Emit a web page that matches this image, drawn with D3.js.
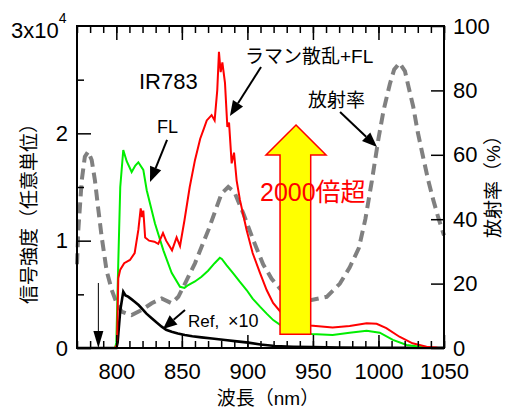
<!DOCTYPE html>
<html><head><meta charset="utf-8">
<script src="https://cdn.jsdelivr.net/npm/d3@7/dist/d3.min.js"></script>
<style>
body{margin:0;background:#fff;}
text{font-family:"Liberation Sans",Arial,"Noto Sans CJK JP",sans-serif;}
.cjk{font-family:"Liberation Sans","Noto Sans CJK JP",sans-serif;}
</style></head><body>
<svg id="c" width="505" height="410"></svg>
<script>
// ---- data ----
const redNm  = [770,790,799,800.5,801.5,803,806,810.4,814,816.8,818.6,819.6,820.6,822,825,829,832,835.6,838,842.5,846,848.6,852,856,860,864,867,869,872.7,875,877,878.3,879.6,880.9,882.9,884.7,886,888,889.8,891.8,894.3,899.4,904,909.6,914.7,919.6,925,935,948,965,978,991,998.6,1006,1016,1026,1036.7,1045,1050];
const redVal = [0,0,0,300,6500,7300,7900,8200,8850,11000,13000,12200,12800,10300,10000,9900,9700,10700,10000,9100,10300,9500,11900,15000,17500,19500,20500,21200,21700,21200,24000,27600,25700,26600,24700,20600,21000,17200,18200,15600,13800,11000,8850,7000,5400,4200,3400,2600,2100,1900,2050,2300,2250,1850,1050,440,120,20,0];

const grnNm  = [770,799,800,801.5,803,805.3,807.9,811.7,814.5,816.8,820.6,823.2,829.5,835.9,842.2,848.6,852,854.9,860,865,870,875,879,880.5,884.2,889.2,894,899.4,904,909.6,914.7,919.7,925,935,949,965,978,991,1001,1011,1021.5,1031.6,1040,1050];
const grnVal = [0,0,500,8000,15000,18450,17400,16400,17000,17300,16600,14700,11600,9100,7000,5700,5600,5870,6200,6640,7200,7900,8400,8300,7700,6960,6200,5400,4600,3850,3200,2600,2150,1600,1300,1210,1430,1610,1430,750,280,120,30,0];

const refNm  = [770,800,801,803,805.3,807,809,811.5,814,817,819.4,823,827,831,834.6,838,842.2,847,852.3,858,865,873,883,892,900.7,910,921,935,950,970,1000,1050];
const refVal = [0,0,500,3500,5250,4900,4780,4550,4310,4000,3700,3200,2770,2350,1990,1700,1520,1350,1210,1100,990,880,745,620,500,330,190,120,80,50,30,10];

const emNm  = [770,771,773.6,776,778.6,781.2,783.7,786.3,788.8,792.6,796.5,800.3,804,811.7,819.4,827,834.6,842.2,847.3,852.4,860,870.2,880.3,885.4,890,896.9,904.5,912,918.5,924.8,935,949,960.5,970.6,978,985,990,995,1000,1004,1008.7,1012,1016,1020.2,1023,1026.5,1030,1034,1038,1041.8,1046,1050];
const emVal = [26,36.6,52,59.4,61,58.4,52,42.9,34.6,24,18,13.9,11.3,10.2,11.8,13.9,15.4,13.9,15.9,20,26.3,36.6,48,50,48.5,41.8,33.5,26,21.5,18.5,15.5,14.9,15.9,20,25,31,40,52,65,74,82,86.5,88.5,86,81,75,67,59.4,52,46,40,35];

const xMajor = [800,850,900,950,1000,1050];
const xMinor = d3.range(770,1051,10);
const yLMajor = [0,10000,20000];
const yLLabels = ["0","1","2"];
const yLMinor = [5000,15000,25000];
const yRMajor = [0,20,40,60,80,100];

// ---- layout ----
const svg = d3.select("#c");
const L=77,R=444,T=26,B=348;
const x = d3.scaleLinear().domain([770,1050]).range([L,R]);
const yL = d3.scaleLinear().domain([0,30000]).range([B,T]);
const yR = d3.scaleLinear().domain([0,100]).range([B,T]);

function series(nm,val,ys){return nm.map((d,i)=>[x(d),ys(val[i])]);}
const line = d3.line().curve(d3.curveLinear);

svg.append("path").attr("d",line(series(emNm,emVal,yR)))
  .attr("fill","none").attr("stroke","#808080").attr("stroke-width",4)
  .attr("stroke-dasharray","11,6");
svg.append("path").attr("d",line(series(refNm,refVal,yL)))
  .attr("fill","none").attr("stroke","#000").attr("stroke-width",2.6);
svg.append("path").attr("d",line(series(grnNm,grnVal,yL)))
  .attr("fill","none").attr("stroke","#00ee00").attr("stroke-width",2);
svg.append("path").attr("d",line(series(redNm,redVal,yL)))
  .attr("fill","none").attr("stroke","#ff0000").attr("stroke-width",2);

// axes
function styleAx(g){g.select(".domain").remove();g.selectAll("line").attr("stroke","#000").attr("stroke-width",1.5);
  g.selectAll("text").attr("font-size",22).attr("fill","#000");}
svg.append("g").attr("transform",`translate(0,${B})`)
  .call(d3.axisBottom(x).tickValues(xMinor).tickSize(-7).tickFormat("")).call(styleAx);
svg.append("g").attr("transform",`translate(0,${B})`)
  .call(d3.axisBottom(x).tickValues(xMajor).tickSize(-13).tickPadding(15).tickFormat(d3.format("d"))).call(styleAx);
svg.append("g").attr("transform",`translate(0,${T})`)
  .call(d3.axisTop(x).tickValues(xMinor).tickSize(-7).tickFormat("")).call(styleAx);
svg.append("g").attr("transform",`translate(0,${T})`)
  .call(d3.axisTop(x).tickValues(xMajor).tickSize(-14).tickFormat("")).call(styleAx);
svg.append("g").attr("transform",`translate(${L},0)`)
  .call(d3.axisLeft(yL).tickValues(yLMajor).tickSize(-14).tickPadding(9).tickFormat((d,i)=>yLLabels[i])).call(styleAx);
svg.append("g").attr("transform",`translate(${L},0)`)
  .call(d3.axisLeft(yL).tickValues(yLMinor).tickSize(-7).tickFormat("")).call(styleAx);
svg.append("g").attr("transform",`translate(${R},0)`)
  .call(d3.axisRight(yR).tickValues(yRMajor).tickSize(-13).tickPadding(9).tickFormat(d3.format("d"))).call(styleAx);
svg.append("rect").attr("x",L).attr("y",T).attr("width",R-L).attr("height",B-T)
  .attr("fill","none").attr("stroke","#000").attr("stroke-width",2);

// 3x10^4
const t3 = svg.append("text").attr("x",11).attr("y",38).attr("font-size",22);
t3.append("tspan").text("3x10");
t3.append("tspan").attr("font-size",14).attr("dy",-15).text("4");

// axis titles
svg.append("text").attr("class","cjk").attr("transform","translate(29,209) rotate(-90)")
  .attr("text-anchor","middle").attr("dominant-baseline","central").attr("font-size",19).text("信号強度（任意単位）");
svg.append("text").attr("class","cjk").attr("transform","translate(493,182) rotate(-90)")
  .attr("text-anchor","middle").attr("dominant-baseline","central").attr("font-size",19).text("放射率（%）");
svg.append("text").attr("class","cjk").attr("x",268).attr("y",405).attr("text-anchor","middle")
  .attr("font-size",19).text("波長（nm）");

// yellow arrow
const ya = [[937.1,20776],[960,17980],[948.3,17980],[948.3,1276],[924.9,1276],[924.9,17980],[914.2,17980]];
svg.append("polygon").attr("points",ya.map(p=>[x(p[0]),yL(p[1])].join(",")).join(" "))
  .attr("fill","#ffff00").attr("stroke","#ff0000").attr("stroke-width",1.5);
svg.append("text").attr("class","cjk").attr("x",260).attr("y",201).attr("font-size",25).attr("fill","#ff0000").text("2000倍超");

// annotation arrows
function arrow(x1,y1,x2,y2,hl,hw,lw){
  const a=Math.atan2(y2-y1,x2-x1);
  const bx=x2-hl*Math.cos(a), by=y2-hl*Math.sin(a);
  svg.append("line").attr("x1",x1).attr("y1",y1).attr("x2",bx).attr("y2",by).attr("stroke","#000").attr("stroke-width",lw);
  const px=-Math.sin(a)*hw, py=Math.cos(a)*hw;
  svg.append("polygon").attr("points",`${x2},${y2} ${bx+px},${by+py} ${bx-px},${by-py}`).attr("fill","#000");
}
arrow(x(910.4),yL(26180),x(886.7),yL(21620),15,6,2);
arrow(x(838.7),yL(19380),x(825.7),yL(15470),15,6,2);
arrow(x(970.7),yR(73.3),x(998.9),yR(62.4),15,6,2);
arrow(x(852.4),yL(3540),x(835.6),yL(1770),14,6,2);
arrow(x(786.3),yL(6056),x(786.3),yL(0),17,5,1);

svg.append("text").attr("x",139).attr("y",89).attr("font-size",22).text("IR783");
svg.append("text").attr("class","cjk").attr("x",245).attr("y",63).attr("font-size",19).text("ラマン散乱+FL");
svg.append("text").attr("x",157).attr("y",133).attr("font-size",18).text("FL");
svg.append("text").attr("class","cjk").attr("x",308).attr("y",107).attr("font-size",19).text("放射率");
svg.append("text").attr("x",188).attr("y",327).attr("font-size",17).text("Ref,");
svg.append("text").attr("x",228).attr("y",327).attr("font-size",18).text("×10");
</script></body></html>
